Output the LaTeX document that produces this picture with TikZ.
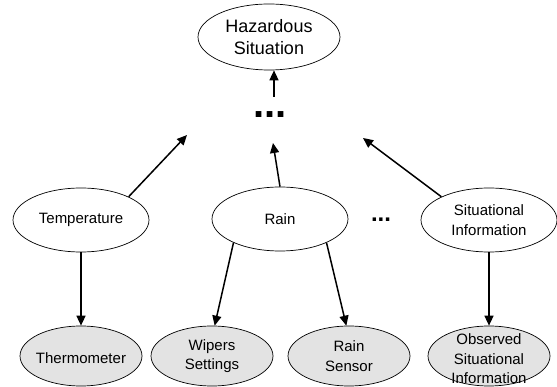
\documentclass[tikz,border=0pt]{standalone}
\usepackage{fontspec}
\setmainfont{Liberation Sans}
\usetikzlibrary{shapes.geometric,arrows.meta}
\definecolor{nodefill}{RGB}{227,227,227}
\begin{document}
\begin{tikzpicture}[x=1pt,y=-1pt,
  ell/.style={ellipse, draw=black, line width=0.7pt, inner sep=0pt},
  midnode/.style={ell, minimum width=136pt, minimum height=64pt},
  obsnode/.style={ell, fill=nodefill, minimum width=122pt, minimum height=60pt},
  lbl/.style={font=\fontsize{15}{19.5}\selectfont, align=center},
  arr/.style={line width=1.5pt, -{Triangle[length=10pt,width=9pt]}}]
\useasboundingbox (0,0) rectangle (557,387);

\node[ell, minimum width=142pt, minimum height=66pt,
  label={[lbl, font=\fontsize{18}{22}\selectfont]center:Hazardous\\Situation}] (top) at (269,37) {};

\node[anchor=base, font=\fontsize{40}{40}\selectfont\bfseries] (dots) at (270,117.5) {...};
\node[anchor=base, font=\fontsize{24}{24}\selectfont\bfseries] (middots) at (381,222) {...};

\node[midnode, label={[lbl]center:Temperature}] (temp) at (81,220) {};
\node[midnode, label={[lbl]center:Rain}] (rain) at (280,219) {};
\node[midnode, label={[lbl]center:Situational\\Information}] (sit) at (489,220) {};

\node[obsnode, label={[lbl, yshift=-2pt]center:Thermometer}] (thermo) at (81,356) {};
\node[obsnode, label={[lbl]center:Wipers\\Settings}] (wipers) at (212,356) {};
\node[obsnode, label={[lbl]center:Rain\\Sensor}] (sensor) at (349,356) {};
\node[obsnode, label={[lbl, yshift=-3pt]center:Observed\\Situational\\Information}] (obs) at (489,356) {};

\coordinate (tl) at (187,135);
\coordinate (tm) at (273,143);
\coordinate (tr) at (363,138);
\coordinate (dotsup) at (274,97);

\draw[arr] (temp.26) -- (tl);
\draw[arr] (rain.north) -- (tm);
\draw[arr] (sit.154) -- (tr);
\draw[arr] (dotsup) -- (dotsup |- top.south);
\draw[arr] (temp.south) -- (thermo.north);
\draw[arr] (rain.207) -- (wipers.85);
\draw[arr] (rain.-27) -- (sensor.95);
\draw[arr] (sit.south) -- (obs.north);
\end{tikzpicture}
\end{document}
